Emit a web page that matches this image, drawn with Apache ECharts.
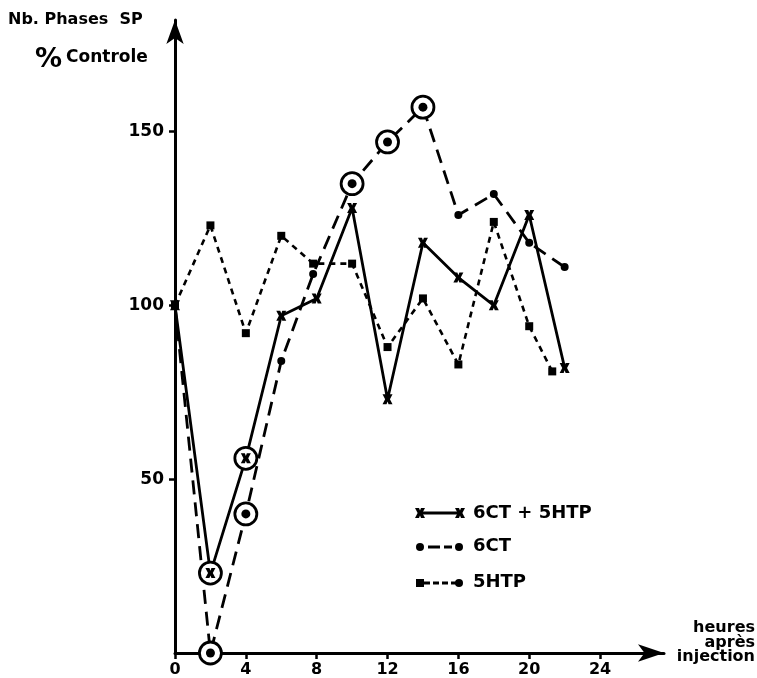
<!DOCTYPE html>
<html>
<head>
<meta charset="utf-8">
<script src="https://cdn.jsdelivr.net/npm/echarts@6/dist/echarts.min.js"></script>
<style>
  html, body { margin: 0; padding: 0; background: #fff; }
  #chart { width: 757px; height: 678px; }
</style>
</head>
<body>
<div id="chart"></div>
<script>
// ---- data ----
const hoursCombo = [0, 2, 4, 6, 8, 10, 12, 14, 16, 18, 20, 22];
const valuesCombo = [100, 23, 56, 97, 102, 128, 73, 118, 108, 100, 126, 82];   // 6CT + 5HTP

const hours6CT = [0, 2, 4, 6, 7.8, 10, 12, 14, 16, 18, 20, 22];
const values6CT = [100, 0, 40, 84, 109, 135, 147, 157, 126, 132, 118, 111];   // 6CT

const hours5HTP = [0, 2, 4, 6, 7.8, 10, 12, 14, 16, 18, 20, 21.3];
const values5HTP = [100, 123, 92, 120, 112, 112, 88, 102, 83, 124, 94, 81];    // 5HTP

// indices of the circled (significant) points
const sigCombo = [1, 2];
const sig6CT = [1, 2, 5, 6, 7];

const xTickValues = [0, 4, 8, 12, 16, 20, 24];
const yTickValues = [50, 100, 150];

const seriesNames = ['6CT + 5HTP', '6CT', '5HTP'];

// ---- chart ----
const FONT = 'DejaVu Sans';
const X_SYMBOL = 'path://M0,0L4,0L5,2.6L6,0L10,0L7.4,5L10,10L6,10L5,7.4L4,10L0,10L2.6,5Z';
const X_POLY = [[0,0],[4,0],[5,2.6],[6,0],[10,0],[7.4,5],[10,10],[6,10],[5,7.4],[4,10],[0,10],[2.6,5]];
const xPoly = (cx, cy) => X_POLY.map(p => [cx - 5 + p[0], cy - 5 + p[1]]);

const pairs = (xs, ys) => xs.map((x, i) => [x, ys[i]]);
const pick = (xs, ys, idx) => idx.map(i => [xs[i], ys[i]]);

const chart = echarts.init(document.getElementById('chart'), null, { renderer: 'canvas' });

const graphic = [
  { type: 'text', x: 8, y: 12, style: { text: 'Nb. Phases  SP', font: 'bold 16px "DejaVu Sans"', fill: '#000' } },
  { type: 'text', x: 35, y: 46, style: { text: '%', font: 'bold 27px "DejaVu Sans"', fill: '#000' } },
  { type: 'text', x: 66, y: 49, style: { text: 'Controle', font: 'bold 17px "DejaVu Sans"', fill: '#000' } },
  { type: 'text', x: 755, y: 621, style: { text: 'heures\naprès\ninjection', font: 'bold 16px "DejaVu Sans"', fill: '#000', align: 'right', lineHeight: 14.5 } },
  // legend row 1 : x——x
  { type: 'line', shape: { x1: 420, y1: 513, x2: 459, y2: 513 }, style: { stroke: '#000', lineWidth: 3 } },
  { type: 'polygon', shape: { points: xPoly(420, 513) }, style: { fill: '#000' } },
  { type: 'polygon', shape: { points: xPoly(460, 513) }, style: { fill: '#000' } },
  { type: 'text', x: 473, y: 504, style: { text: seriesNames[0], font: 'bold 18px "DejaVu Sans"', fill: '#000' } },
  // legend row 2 : •—•
  { type: 'circle', shape: { cx: 420, cy: 547, r: 4 }, style: { fill: '#000' } },
  { type: 'line', shape: { x1: 428, y1: 547, x2: 452, y2: 547 }, style: { stroke: '#000', lineWidth: 3, lineDash: [12, 4] } },
  { type: 'circle', shape: { cx: 459, cy: 547, r: 4 }, style: { fill: '#000' } },
  { type: 'text', x: 473, y: 537, style: { text: seriesNames[1], font: 'bold 18px "DejaVu Sans"', fill: '#000' } },
  // legend row 3 : ■---•
  { type: 'rect', shape: { x: 416, y: 579, width: 8, height: 8 }, style: { fill: '#000' } },
  { type: 'line', shape: { x1: 424, y1: 583, x2: 456, y2: 583 }, style: { stroke: '#000', lineWidth: 3, lineDash: [6, 3] } },
  { type: 'circle', shape: { cx: 459, cy: 583, r: 4 }, style: { fill: '#000' } },
  { type: 'text', x: 473, y: 573, style: { text: seriesNames[2], font: 'bold 18px "DejaVu Sans"', fill: '#000' } }
];

const option = {
  animation: false,
  backgroundColor: '#fff',
  grid: { left: 175, right: 93, top: 20, bottom: 24, containLabel: false },
  xAxis: {
    type: 'value',
    min: 0,
    max: 27.61,
    interval: 4,
    splitLine: { show: false },
    axisLine: { show: true, symbol: ['none', 'arrow'], symbolSize: [13, 26], lineStyle: { color: '#000', width: 3 } },
    axisTick: { show: true, length: 6, customValues: xTickValues, lineStyle: { color: '#000', width: 2.5 } },
    axisLabel: { show: true, customValues: xTickValues, margin: 9, color: '#000', fontWeight: 'bold', fontSize: 16, fontFamily: FONT }
  },
  yAxis: {
    type: 'value',
    min: 0,
    max: 182.08,
    interval: 50,
    splitLine: { show: false },
    axisLine: { show: true, symbol: ['none', 'arrow'], symbolSize: [13, 24], lineStyle: { color: '#000', width: 3 } },
    axisTick: { show: true, length: 6, customValues: yTickValues, lineStyle: { color: '#000', width: 2.5 } },
    axisLabel: { show: true, customValues: yTickValues, margin: 11, color: '#000', fontWeight: 'bold', fontSize: 17, fontFamily: FONT }
  },
  graphic: { elements: graphic },
  series: [
    {
      name: seriesNames[2], type: 'line', z: 2,
      data: pairs(hours5HTP, values5HTP),
      symbol: 'rect', symbolSize: 8,
      itemStyle: { color: '#000' },
      lineStyle: { color: '#000', width: 2.6, type: [6, 5] }
    },
    {
      name: seriesNames[1], type: 'line', z: 2,
      data: pairs(hours6CT, values6CT),
      symbol: 'circle', symbolSize: 8,
      itemStyle: { color: '#000' },
      lineStyle: { color: '#000', width: 2.8, type: [14, 8] }
    },
    {
      name: seriesNames[0], type: 'line', z: 2,
      data: pairs(hoursCombo, valuesCombo),
      symbol: X_SYMBOL, symbolSize: 10,
      itemStyle: { color: '#000' },
      lineStyle: { color: '#000', width: 2.8 }
    },
    {
      name: 'rings', type: 'scatter', z: 3,
      data: pick(hours6CT, values6CT, sig6CT).concat(pick(hoursCombo, valuesCombo, sigCombo)),
      symbol: 'circle', symbolSize: 22,
      itemStyle: { color: '#fff', borderColor: '#000', borderWidth: 2.8, opacity: 1 }
    },
    {
      name: 'sig6CT', type: 'scatter', z: 4,
      data: pick(hours6CT, values6CT, sig6CT),
      symbol: 'circle', symbolSize: 9,
      itemStyle: { color: '#000', opacity: 1 }
    },
    {
      name: 'sigCombo', type: 'scatter', z: 4,
      data: pick(hoursCombo, valuesCombo, sigCombo),
      symbol: X_SYMBOL, symbolSize: 10,
      itemStyle: { color: '#000', opacity: 1 }
    }
  ]
};

chart.setOption(option);
</script>
</body>
</html>
